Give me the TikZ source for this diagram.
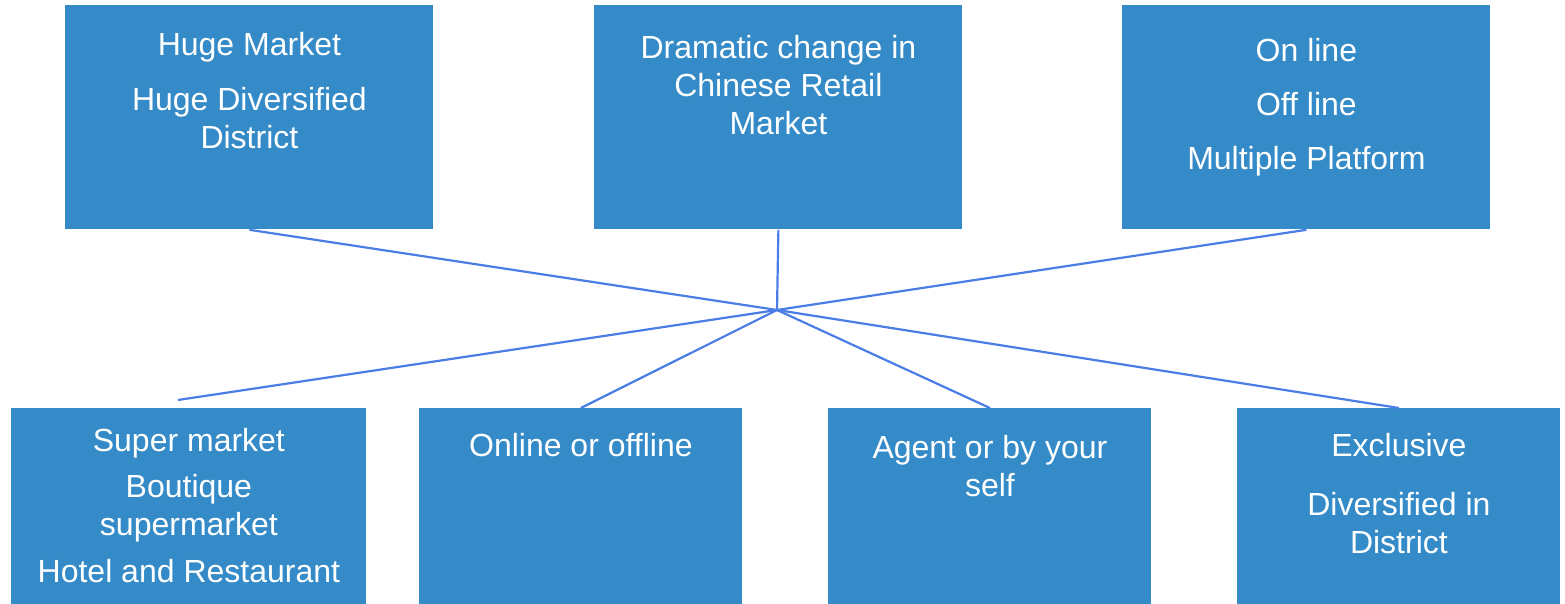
\documentclass[tikz,border=0pt]{standalone}
\usepackage{fontspec}
\setmainfont{Liberation Sans}
\usepackage{tikz}
\usetikzlibrary{positioning}
\definecolor{boxblue}{RGB}{52,139,200}
\definecolor{linkblue}{RGB}{74,126,230}
\tikzset{
  x=0.5pt, y=-0.5pt,
  box/.style={rectangle, fill=boxblue, draw=none, anchor=north west, inner sep=0pt},
  topbox/.style={box, minimum width=184pt, minimum height=112pt},
  lowbox/.style={box, minimum width=161.5pt, minimum height=98pt},
  txt/.style={text=white, align=center, inner sep=0pt,
    font=\fontsize{16pt}{19pt}\selectfont},
  link/.style={draw=linkblue, line width=1.1pt}
  }
\begin{document}
\begin{tikzpicture}

    \useasboundingbox (0,0) rectangle (1565,604);

    \node [topbox] at (65,5) (m1) {};
    \node [topbox] at (594,5) (m2) {};
    \node [topbox] at (1122,5) (m3) {};
    \node [lowbox, minimum width=177.5pt] at (11,408) (n1) {};
    \node [lowbox] at (419,408) (n2) {};
    \node [lowbox] at (828,408) (n3) {};
    \node [lowbox] at (1237,408) (n4) {};

    \node [txt, below=13.5pt of m1.north] (m1t) {Huge Market\\[8.5pt] Huge Diversified\\ District};
    \node [txt, below=15pt of m2.north] (m2t) {Dramatic change in\\ Chinese Retail\\ Market};
    \node [txt, below=16.5pt of m3.north] (m3t) {On line\\[8pt] Off line\\[8pt] Multiple Platform};
    \node [txt, below=10pt of n1.north] (n1t) {Super market\\[4pt] Boutique\\ supermarket\\[4.5pt] Hotel and Restaurant};
    \node [txt, below=12.5pt of n2.north] (n2t) {Online or offline};
    \node [txt, below=13.5pt of n3.north] (n3t) {Agent or by your\\ self};
    \node [txt, below=12.5pt of n4.north] (n4t) {Exclusive\\[10.5pt] Diversified in\\ District};

    \coordinate (hub) at (777,310);
    \coordinate (n1end) at (178,400);

    \draw [link] (m1.south) -- (hub);
    \draw [link] (m2.south) -- (hub);
    \draw [link] (m3.south) -- (hub);
    \draw [link] (hub) -- (n1end);
    \draw [link] (hub) -- (n2.north);
    \draw [link] (hub) -- (n3.north);
    \draw [link] (hub) -- (n4.north);

\end{tikzpicture}
\end{document}
